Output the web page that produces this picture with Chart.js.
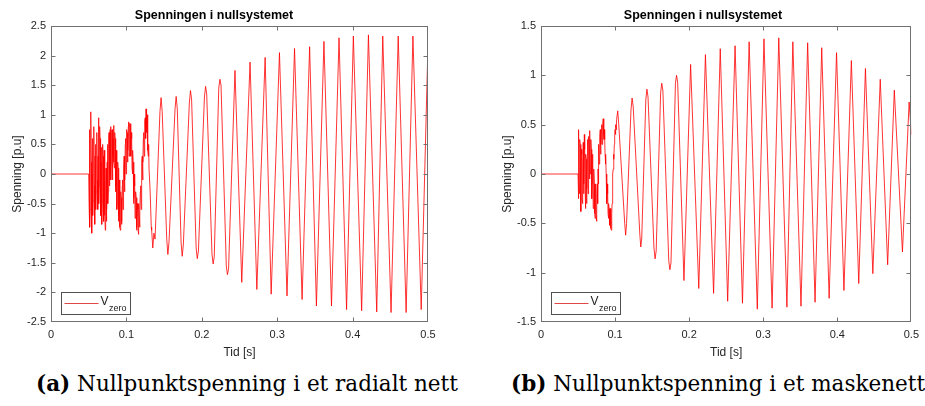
<!DOCTYPE html>
<html><head><meta charset="utf-8">
<script src="https://cdn.jsdelivr.net/npm/chart.js@4/dist/chart.umd.min.js"></script>
<style>
html,body{margin:0;padding:0;background:#fff;width:925px;height:406px;overflow:hidden;position:relative}
canvas{position:absolute;top:0}
.cap{position:absolute;top:371px;font-family:"DejaVu Serif",serif;font-size:21.5px;line-height:26px;white-space:nowrap;color:#000}
</style></head><body>
<canvas id="ca" width="470" height="362" style="left:0"></canvas>
<canvas id="cb" width="435" height="362" style="left:490px"></canvas>
<div class="cap" style="left:36px"><b>(a)</b> Nullpunktspenning i et radialt nett</div>
<div class="cap" style="left:511px"><b>(b)</b> Nullpunktspenning i et maskenett</div>
<script>
// ---- data ----
const titleText = 'Spenningen i nullsystemet';
const xLabel = 'Tid [s]';
const yLabel = 'Spenning [p.u]';
const legendMain = 'V';
const legendSub = 'zero';
const xTicks = [0, 0.1, 0.2, 0.3, 0.4, 0.5];
const yTicksA = [-2.5, -2, -1.5, -1, -0.5, 0, 0.5, 1, 1.5, 2, 2.5];
const yTicksB = [-1.5, -1, -0.5, 0, 0.5, 1, 1.5];

// (a) radial network: quiet part and noisy onset (0.5 ms samples)
const onsetTimesA = [0,
  0.0500, 0.0505, 0.0510, 0.0515, 0.0520, 0.0525, 0.0530, 0.0535, 0.0540, 0.0545,
  0.0550, 0.0555, 0.0560, 0.0565, 0.0570, 0.0575, 0.0580, 0.0585, 0.0590, 0.0595,
  0.0600, 0.0605, 0.0610, 0.0615, 0.0620, 0.0625, 0.0630, 0.0635, 0.0640, 0.0645,
  0.0650, 0.0655, 0.0660, 0.0665, 0.0670, 0.0675, 0.0680, 0.0685, 0.0690, 0.0695,
  0.0700, 0.0705, 0.0710, 0.0715, 0.0720, 0.0725, 0.0730, 0.0735, 0.0740, 0.0745,
  0.0750, 0.0755, 0.0760, 0.0765, 0.0770, 0.0775, 0.0780, 0.0785, 0.0790, 0.0795,
  0.0800, 0.0805, 0.0810, 0.0815, 0.0820, 0.0825, 0.0830, 0.0835, 0.0840, 0.0845,
  0.0850, 0.0855, 0.0860, 0.0865, 0.0870, 0.0875, 0.0880, 0.0885, 0.0890, 0.0895,
  0.0900, 0.0905, 0.0910, 0.0915, 0.0920, 0.0925, 0.0930, 0.0935, 0.0940, 0.0945,
  0.0950, 0.0955, 0.0960, 0.0965, 0.0970, 0.0975, 0.0980, 0.0985, 0.0990, 0.0995,
  0.1000, 0.1005, 0.1010, 0.1015, 0.1020, 0.1025, 0.1030, 0.1035, 0.1040, 0.1045,
  0.1050, 0.1055, 0.1060, 0.1065, 0.1070, 0.1075, 0.1080, 0.1085, 0.1090, 0.1095,
  0.1100, 0.1105, 0.1110, 0.1115, 0.1120, 0.1125, 0.1130, 0.1135, 0.1140, 0.1145,
  0.1150, 0.1155, 0.1160, 0.1165, 0.1170, 0.1175, 0.1180, 0.1185, 0.1190, 0.1195,
  0.1200, 0.1205, 0.1210, 0.1215, 0.1220, 0.1225, 0.1230, 0.1235, 0.1240, 0.1245,
  0.1250, 0.1255, 0.1260, 0.1265, 0.1270, 0.1275, 0.1280, 0.1285, 0.1290, 0.1295,
  0.1300, 0.1315];
const onsetValuesA = [0,
  0, -0.5, 0.75, -0.9, -0.6, 0.4, 1.05, 0.2, -1.0, 0.0,
  0.6, -0.7, -0.45, 0.5, 0.8, -0.2, -0.85, 0.3, 0.5, -0.6,
  -0.3, 0.4, 0.7, -0.1, -0.6, 0.3, 0.95, -0.5, -0.2, 0.8,
  0.6, -0.4, -0.7, 0.2, 0.45, -0.85, -0.5, 0.5, 0.3, -0.6,
  -0.8, 0.4, 0.2, -0.7, -0.95, -0.2, 0.1, -0.8, -0.6, 0.2,
  0.5, -0.5, -0.3, 0.6, 0.7, -0.2, 0.0, 0.75, 0.8, -0.1,
  0.2, 0.7, 0.75, -0.1, 0.3, 0.6, 0.82, 0.2, 0.1, 0.7,
  0.6, -0.3, -0.2, 0.4, 0.3, -0.6, -0.5, 0.2, 0.1, -0.8,
  -0.7, -0.1, -0.3, -0.9, -0.95, -0.3, -0.4, -0.85, -0.8, -0.2,
  -0.1, -0.6, -0.5, 0.1, 0.3, -0.3, -0.1, 0.5, 0.6, 0.0,
  0.2, 0.75, 0.7, 0.2, 0.4, 0.8, 0.88, 0.3, 0.5, 0.85,
  0.85, 0.4, 0.3, 0.7, 0.6, 0.1, 0.0, 0.4, 0.2, -0.5,
  -0.4, 0.0, -0.2, -0.75, -0.7, -0.3, -0.4, -0.95, -0.9, -0.5,
  -0.6, -0.95, -1.02, -0.5, -0.7, -0.9, -0.6, -0.3, -0.2, -0.6,
  -0.1, 0.2, 0.3, -0.1, 0.2, 0.6, 0.7, 0.3, 0.5, 0.9,
  0.95, 0.6, 1.1, 0.7, 0.8, 1.0, 0.7, 0.4, 0.3, 0.5,
  0.1, -0.3];
// (a) later cycles: peaks and troughs (with shoulders where the trace is thick)
const extremaTimesA = [0.1330, 0.1335, 0.1350, 0.1365, 0.1380,
  0.1445, 0.1460, 0.1475, 0.1535, 0.1550, 0.1565,
  0.1645, 0.1660, 0.1675, 0.1725, 0.1740, 0.1755,
  0.1835, 0.1850, 0.1865, 0.1925, 0.1940, 0.1955,
  0.2035, 0.2050, 0.2065, 0.2135, 0.2150, 0.2165,
  0.2225, 0.2240, 0.2255, 0.2325, 0.2340, 0.2355,
  0.244, 0.253, 0.264, 0.273, 0.284, 0.292, 0.303, 0.313, 0.323,
  0.333, 0.343, 0.352, 0.362, 0.372, 0.382, 0.392, 0.401, 0.412, 0.421,
  0.432, 0.440, 0.451, 0.4605, 0.471, 0.480, 0.491, 0.500];
const extremaValuesA = [-0.9, -0.95, -1.25, -1.0, -1.1,
  1.05, 1.29, 1.05, -1.1, -1.36, -1.15,
  1.1, 1.31, 1.1, -1.15, -1.39, -1.2,
  1.2, 1.41, 1.25, -1.25, -1.43, -1.3,
  1.3, 1.48, 1.35, -1.35, -1.52, -1.4,
  1.45, 1.60, 1.5, -1.55, -1.70, -1.6,
  1.75, -1.83, 1.89, -1.95, 1.97, -2.03, 2.05, -2.06, 2.12,
  -2.12, 2.15, -2.23, 2.24, -2.23, 2.30, -2.29, 2.33, -2.31, 2.35,
  -2.33, 2.33, -2.34, 2.33, -2.34, 2.33, -2.29, 2.20];

// (b) meshed network: quiet part and noisy onset (0.5 ms samples)
const onsetTimesB = [0,
  0.0500, 0.0505, 0.0510, 0.0515, 0.0520, 0.0525, 0.0530, 0.0535, 0.0540, 0.0545,
  0.0550, 0.0555, 0.0560, 0.0565, 0.0570, 0.0575, 0.0580, 0.0585, 0.0590, 0.0595,
  0.0600, 0.0605, 0.0610, 0.0615, 0.0620, 0.0625, 0.0630, 0.0635, 0.0640, 0.0645,
  0.0650, 0.0655, 0.0660, 0.0665, 0.0670, 0.0675, 0.0680, 0.0685, 0.0690, 0.0695,
  0.0700, 0.0705, 0.0710, 0.0715, 0.0720, 0.0725, 0.0730, 0.0735, 0.0740, 0.0745,
  0.0750, 0.0755, 0.0760, 0.0765, 0.0770, 0.0775, 0.0780, 0.0785, 0.0790, 0.0795,
  0.0800, 0.0805, 0.0810, 0.0815, 0.0820, 0.0825, 0.0830, 0.0835, 0.0840, 0.0845,
  0.0850, 0.0855, 0.0860, 0.0865, 0.0870, 0.0875, 0.0880, 0.0885, 0.0890, 0.0895,
  0.0900, 0.0905, 0.0910, 0.0915, 0.0920, 0.0925, 0.0930, 0.0935, 0.0940, 0.0945,
  0.0950, 0.0955, 0.0960, 0.0965, 0.0970, 0.0975, 0.0980, 0.0985, 0.0990, 0.0995,
  0.1000, 0.1005, 0.1010, 0.1015, 0.1020];
const onsetValuesB = [0,
  0, -0.25, 0.45, -0.1, -0.2, 0.35, 0.3, -0.1, -0.38, 0.25,
  0.2, -0.25, -0.3, 0.1, 0.32, -0.2, -0.1, 0.4, 0.25, -0.15,
  -0.35, 0.2, 0.15, -0.3, -0.15, 0.2, 0.35, -0.2, 0.0, 0.38,
  0.3, -0.05, 0.44, 0.0, 0.1, 0.35, 0.25, -0.25, -0.1, 0.2,
  0.1, -0.35, -0.3, 0.05, -0.1, -0.4, -0.45, -0.1, -0.25, -0.42,
  -0.48, -0.2, -0.1, -0.3, 0.05, -0.1, 0.3, 0.1, 0.1, 0.38,
  0.45, 0.2, 0.3, 0.45, 0.5, 0.3, 0.35, 0.5, 0.56, 0.35,
  0.4, 0.45, 0.35, 0.2, 0.1, 0.2, 0.0, -0.1, -0.3, -0.1,
  -0.2, -0.4, -0.45, -0.3, -0.35, -0.5, -0.52, -0.35, -0.4, -0.55,
  -0.57, -0.4, -0.3, -0.2, 0.0, 0.05, 0.2, 0.15, 0.3, 0.4,
  0.45, 0.4, 0.5, 0.45, 0.55];
// (b) later cycles: peaks and troughs
const extremaTimesB = [0.1036, 0.1050, 0.1130, 0.1143, 0.1155,
  0.1215, 0.1230, 0.1245, 0.1335, 0.1347, 0.1360,
  0.1415, 0.1430, 0.1445, 0.1525, 0.1540, 0.1555,
  0.1615, 0.1630, 0.1645, 0.1725, 0.1740, 0.1755,
  0.1815, 0.1830, 0.1845, 0.193,
  0.202, 0.213, 0.222, 0.233, 0.242, 0.252, 0.262, 0.272, 0.281, 0.292,
  0.301, 0.312, 0.321, 0.332, 0.340, 0.351, 0.360, 0.370, 0.379, 0.389,
  0.399, 0.409, 0.419, 0.429, 0.438, 0.448, 0.458, 0.468, 0.477, 0.488,
  0.497, 0.500];
const extremaValuesB = [0.64, 0.5, -0.5, -0.62, -0.5,
  0.65, 0.77, 0.68, -0.62, -0.74, -0.65,
  0.75, 0.86, 0.78, -0.75, -0.86, -0.78,
  0.82, 0.92, 0.85, -0.88, -0.97, -0.9,
  0.92, 1.00, 0.93, -1.08,
  1.11, -1.16, 1.21, -1.21, 1.27, -1.29, 1.30, -1.31, 1.34, -1.37,
  1.37, -1.36, 1.38, -1.35, 1.34, -1.34, 1.33, -1.30, 1.28, -1.26,
  1.23, -1.18, 1.15, -1.11, 1.07, -1.01, 0.96, -0.92, 0.85, -0.79,
  0.73, 0.40];

// ---- drawing ----
Chart.defaults.font.family = '"Liberation Sans", Arial, sans-serif';

function toPoints(ts, vs) { return ts.map((t, i) => ({x: t, y: vs[i]})); }

const framePlugin = {
  id: 'frame',
  afterDatasetsDraw(chart) {
    const {ctx, chartArea: a, scales: {x, y}} = chart;
    ctx.save();
    ctx.strokeStyle = '#707070';
    ctx.lineWidth = 1;
    const L = Math.round(a.left) + 0.5, R = Math.round(a.right) - 0.5;
    const T = Math.round(a.top) + 0.5, B = Math.round(a.bottom) - 0.5;
    ctx.strokeRect(L, T, R - L, B - T);
    ctx.beginPath();
    x.ticks.forEach(t => {
      const p = Math.round(x.getPixelForValue(t.value)) + 0.5;
      if (p <= L + 1 || p >= R - 1) return;
      ctx.moveTo(p, B); ctx.lineTo(p, B - 4);
      ctx.moveTo(p, T); ctx.lineTo(p, T + 4);
    });
    y.ticks.forEach(t => {
      const p = Math.round(y.getPixelForValue(t.value)) + 0.5;
      if (p <= T + 1 || p >= B - 1) return;
      ctx.moveTo(L, p); ctx.lineTo(L + 4, p);
      ctx.moveTo(R, p); ctx.lineTo(R - 4, p);
    });
    ctx.stroke();
    // legend box
    const bx = Math.round(a.left + 9.5) + 0.5, by = Math.round(a.bottom - 30.5) + 0.5;
    ctx.fillStyle = '#fff';
    ctx.fillRect(bx, by, 69, 22);
    ctx.strokeStyle = '#505050';
    ctx.strokeRect(bx, by, 69, 22);
    ctx.strokeStyle = '#e04848';
    ctx.beginPath();
    ctx.moveTo(bx + 3, by + 11); ctx.lineTo(bx + 37, by + 11);
    ctx.stroke();
    ctx.fillStyle = '#222';
    ctx.textBaseline = 'alphabetic';
    ctx.textAlign = 'left';
    ctx.font = '12px "Liberation Sans", Arial, sans-serif';
    ctx.fillText(legendMain, bx + 39, by + 12.5);
    ctx.font = '9px "Liberation Sans", Arial, sans-serif';
    ctx.fillText(legendSub, bx + 47.5, by + 18.5);
    ctx.restore();
  }
};

function build(id, points, yMin, yMax, yTicks, padRight) {
  new Chart(document.getElementById(id), {
    type: 'line',
    data: {datasets: [{
      label: 'V zero',
      data: points,
      borderColor: '#f00',
      borderWidth: 0.8,
      pointRadius: 0,
      tension: 0,
      fill: false
    }]},
    options: {
      responsive: false,
      animation: false,
      events: [],
      layout: {padding: {left: 0, right: padRight, top: 0, bottom: 0}},
      plugins: {
        legend: {display: false},
        tooltip: {enabled: false},
        title: {
          display: true, text: titleText, color: '#000',
          font: {size: 12.5, weight: 'bold', lineHeight: 1.2},
          padding: {top: 8.5, bottom: 2.5}
        }
      },
      scales: {
        x: {
          type: 'linear', min: 0, max: 0.5,
          afterBuildTicks: s => { s.ticks = xTicks.map(v => ({value: v})); },
          afterFit: s => { s.height = 40; },
          grid: {display: false, drawTicks: false},
          border: {display: false},
          ticks: {autoSkip: false, maxRotation: 0, padding: 6, color: '#262626',
                  font: {size: 11}, callback: v => String(v)},
          title: {display: true, text: xLabel, color: '#262626', font: {size: 12, lineHeight: 1.2},
                  padding: {top: 0, bottom: 2.5}}
        },
        y: {
          type: 'linear', min: yMin, max: yMax,
          afterBuildTicks: s => { s.ticks = yTicks.map(v => ({value: v})); },
          afterFit: s => { s.width = 51; },
          grid: {display: false, drawTicks: false},
          border: {display: false},
          ticks: {autoSkip: false, padding: 5, color: '#262626',
                  font: {size: 11}, callback: v => String(v)},
          title: {display: true, text: yLabel, color: '#262626', font: {size: 12, lineHeight: 1.2},
                  padding: {top: 10, bottom: 0}}
        }
      }
    },
    plugins: [framePlugin]
  });
}

build('ca', toPoints(onsetTimesA, onsetValuesA).concat(toPoints(extremaTimesA, extremaValuesA)),
      -2.5, 2.5, yTicksA, 42);
build('cb', toPoints(onsetTimesB, onsetValuesB).concat(toPoints(extremaTimesB, extremaValuesB)),
      -1.5, 1.5, yTicksB, 9);
</script>
</body></html>
